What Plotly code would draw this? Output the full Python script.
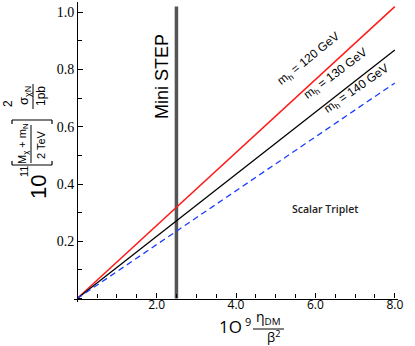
import plotly.graph_objects as go

# ---- data ----
eta_x = [0.0, 8.0]                 # 10^9 eta_DM / beta^2
sigma_120 = [0.0, 1.02]            # m_h = 120 GeV
sigma_130 = [0.0, 0.868]           # m_h = 130 GeV
sigma_140 = [0.0, 0.753]           # m_h = 140 GeV
ministep_x = [2.5, 2.5]
ministep_y = [0.0, 1.02]

x_ticks = [2, 4, 6, 8]
x_ticklabels = ["2.0", "4.0", "6.0", "8.0"]
y_ticks = [0.2, 0.4, 0.6, 0.8, 1.0]
y_ticklabels = ["0.2", "0.4", "0.6", "0.8", "1.0"]

# ---- layout geometry ----
W, H = 415, 346
L, R, T, B = 74, 17, 2, 44
PW, PH = W - L - R, H - T - B
xr = [-0.08, 8.08]
yr = [-0.012, 1.036]


def px(x, y):
    # pixel position -> paper coords
    return (x - L) / PW, (T + PH - y) / PH


fig = go.Figure()
fig.add_trace(go.Scatter(x=ministep_x, y=ministep_y, mode="lines",
                         line=dict(color="#555555", width=3.5)))
fig.add_trace(go.Scatter(x=eta_x, y=sigma_120, mode="lines",
                         line=dict(color="#ff1a1a", width=1.5)))
fig.add_trace(go.Scatter(x=eta_x, y=sigma_130, mode="lines",
                         line=dict(color="black", width=1.3)))
fig.add_trace(go.Scatter(x=eta_x, y=sigma_140, mode="lines",
                         line=dict(color="#1a3cff", width=1.3, dash="6px,4px")))

ann = []
narrow = "Liberation Sans Narrow, Arial Narrow, sans-serif"
sans = "Open Sans, sans-serif"

# rotated texts, placed by pixel centre
rot = [
    ("m<sub>h</sub> = 120 GeV", 309, 59, 12, -39, narrow),
    ("m<sub>h</sub> = 130 GeV", 336, 74, 12, -37, narrow),
    ("m<sub>h</sub> = 140 GeV", 357, 89, 12, -35, narrow),
    ("Mini STEP", 162, 77, 18, -90, narrow),
    # y-axis title pieces
    ("10", 38, 187, 22, -90, narrow),
    ("11", 24, 172, 11, -90, narrow),
    ("M<sub>χ</sub> + m<sub>N</sub>", 23, 144, 11, -90, narrow),
    ("2 TeV", 41, 145, 11, -90, narrow),
    ("2", 8, 104, 12, -90, narrow),
    ("σ<sub>χN</sub>", 24, 96, 13, -90, narrow),
    ("1pb", 41, 96, 12, -90, narrow),
]
for txt, x, y, s, ang, fam in rot:
    xp, yp = px(x, y)
    ann.append(dict(x=xp, y=yp, xref="paper", yref="paper", text=txt, textangle=ang,
                    showarrow=False, xanchor="center", yanchor="middle",
                    font=dict(family=fam, size=s, color="black")))

ann.append(dict(x=6.25, y=0.314, xref="x", yref="y", text="Scalar Triplet",
                showarrow=False, font=dict(family=sans, size=10.5, color="#222222",
                                           weight=600)))

# x-axis title pieces
xtitle = [
    ("1O", 230, 326, 17),
    ("9", 248, 321, 11),
    ("η<sub>DM</sub>", 268, 317, 14),
    ("β<sup>2</sup>", 273, 336, 13),
]
for txt, x, y, s in xtitle:
    xp, yp = px(x, y)
    ann.append(dict(x=xp, y=yp, xref="paper", yref="paper", text=txt,
                    showarrow=False, xanchor="center", yanchor="middle",
                    font=dict(family=sans, size=s, color="black")))

shapes = []


def pline(x0, y0, x1, y1, w=1.0):
    a, b = px(x0, y0)
    c, d = px(x1, y1)
    shapes.append(dict(type="line", xref="paper", yref="paper", x0=a, y0=b, x1=c, y1=d,
                       line=dict(color="black", width=w)))


# fraction bars
pline(31, 125, 31, 163)
pline(33, 84, 33, 109)
pline(253, 329, 284, 329)
# brackets
pline(12, 165, 52, 165, 1.2)
pline(12, 165, 12, 161, 1.2)
pline(52, 165, 52, 161, 1.2)
pline(12, 120, 52, 120, 1.2)
pline(12, 120, 12, 124, 1.2)
pline(52, 120, 52, 124, 1.2)

fig.update_layout(
    width=W, height=H, margin=dict(l=L, r=R, t=T, b=B),
    paper_bgcolor="white", plot_bgcolor="white", showlegend=False,
    annotations=ann, shapes=shapes,
    xaxis=dict(range=xr, showgrid=False, zeroline=False, showline=True,
               linecolor="black", linewidth=1.2, anchor="free",
               position=(0 - yr[0]) / (yr[1] - yr[0]),
               tickmode="array", tickvals=x_ticks, ticktext=x_ticklabels,
               ticks="inside", ticklen=5, tickcolor="black", ticklabelstandoff=-5,
               tickfont=dict(family=sans, size=12, color="black"),
               minor=dict(dtick=0.5, tick0=0, ticks="inside", ticklen=4,
                          tickcolor="black", showgrid=False)),
    yaxis=dict(range=yr, showgrid=False, zeroline=False, showline=True,
               linecolor="black", linewidth=1.2, anchor="free",
               position=(0 - xr[0]) / (xr[1] - xr[0]),
               tickmode="array", tickvals=y_ticks, ticktext=y_ticklabels,
               ticks="inside", ticklen=5, tickcolor="black",
               tickfont=dict(family="Liberation Serif, serif", size=14, color="black"),
               minor=dict(dtick=0.1, tick0=0, ticks="inside", ticklen=4,
                          tickcolor="black", showgrid=False)),
)

# the page body has an 8px default margin; drop it so the figure sits at 0,0
fig.write_html("out.html", config={"displayModeBar": False},
               post_script="document.body.style.margin='0px';")
